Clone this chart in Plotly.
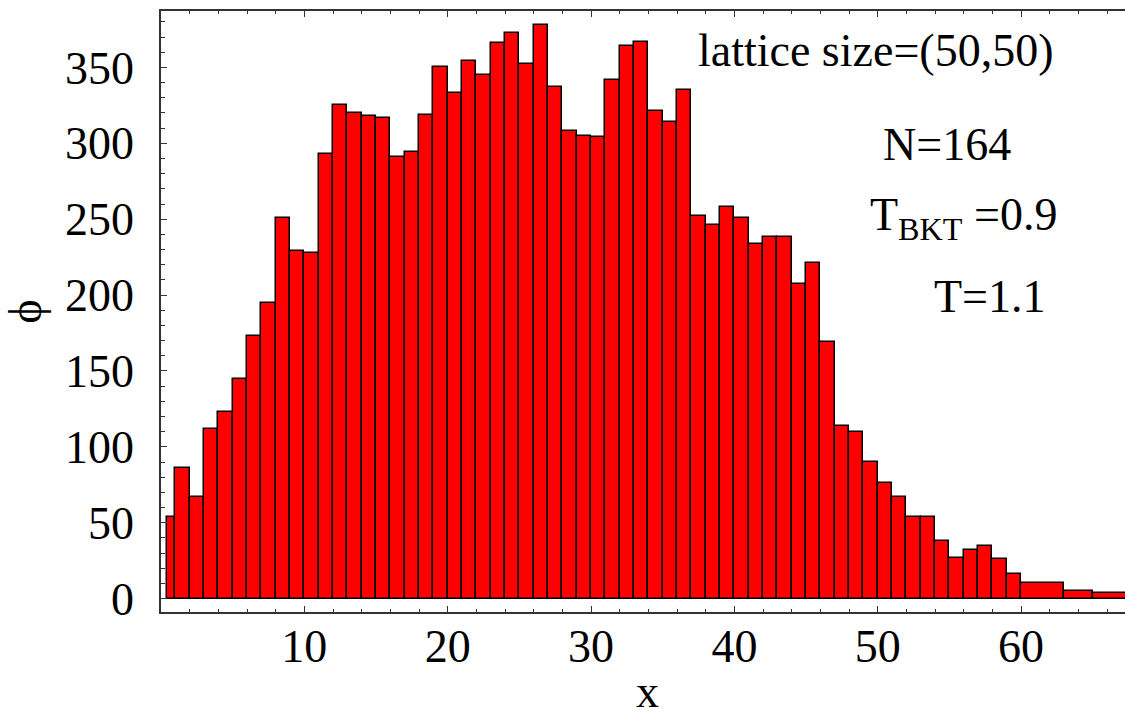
import plotly.graph_objects as go

# Histogram bin edges (unit bins, wider bins in the sparse tail)
bin_edges = [0.45] + list(range(1, 61)) + [63, 65, 68]

# Counts per bin
counts = [
    54, 86, 67, 112, 123, 145, 173, 195, 251, 229,
    228, 293, 325, 320, 318, 317, 291, 294, 319, 350,
    333, 354, 345, 366, 373, 352, 378, 337, 308, 305,
    304, 342, 364, 367, 321, 314, 335, 252, 246, 258,
    251, 234, 238, 238, 207, 221, 169, 114, 110, 90,
    76, 67, 54, 54, 38, 27, 32, 35, 26, 16,
    10, 5, 3.5,
]

x_ticks = [10, 20, 30, 40, 50, 60]
y_ticks = [0, 50, 100, 150, 200, 250, 300, 350]

info_lines = [
    ("lattice size=(50,50)", 49.87, 361.0),
    ("N=164", 54.85, 299.0),
    ("T<sub>BKT</sub> =0.9", 56.0, 251.0),
    ("T=1.1", 57.8, 199.0),
]

lefts = bin_edges[:-1]
widths = [b - a for a, b in zip(bin_edges[:-1], bin_edges[1:])]
centers = [a + w / 2 for a, w in zip(lefts, widths)]

FONT = "Liberation Serif, Times New Roman, serif"
AX = "#333333"

fig = go.Figure(
    go.Bar(
        x=centers,
        y=counts,
        width=widths,
        marker=dict(color="#ff0000", line=dict(color="#000000", width=1.5)),
        showlegend=False,
    )
)

for text, xv, yv in info_lines:
    fig.add_annotation(
        x=xv, y=yv, xref="x", yref="y", text=text, showarrow=False,
        xanchor="center", yanchor="middle",
        font=dict(family=FONT, size=46, color="#000000"),
    )

# x-axis title, placed below the tick labels near the page bottom
fig.add_annotation(
    x=0.505, y=-0.133, xref="paper", yref="paper", text="x", showarrow=False,
    xanchor="center", yanchor="middle",
    font=dict(family=FONT, size=46, color="#000000"),
)

fig.update_layout(
    width=1125,
    height=709,
    margin=dict(l=161, r=0, t=11, b=97, autoexpand=False),
    paper_bgcolor="white",
    plot_bgcolor="white",
    bargap=0,
    font=dict(family=FONT, color="#000000"),
    xaxis=dict(
        range=[0, 67.25],
        automargin=False,
        tickvals=x_ticks,
        ticks="inside",
        ticklen=6,
        tickwidth=1.2,
        tickcolor=AX,
        minor=dict(dtick=2, tick0=0, ticks="inside", ticklen=3.5, tickwidth=1, tickcolor=AX),
        showline=True,
        linecolor=AX,
        linewidth=1.5,
        mirror="ticks",
        showgrid=False,
        zeroline=False,
        tickfont=dict(family=FONT, size=46, color="#000000"),
        ticklabelstandoff=-7,
    ),
    yaxis=dict(
        range=[-8.8, 387.2],
        automargin=False,
        tickvals=y_ticks,
        ticks="inside",
        ticklen=6,
        tickwidth=1.2,
        tickcolor=AX,
        minor=dict(dtick=10, tick0=0, ticks="inside", ticklen=4, tickwidth=1, tickcolor=AX),
        showline=True,
        linecolor=AX,
        linewidth=1.5,
        mirror=False,
        showgrid=False,
        zeroline=False,
        tickfont=dict(family=FONT, size=46, color="#000000"),
        ticklabelstandoff=16,
        title=dict(text="ϕ", font=dict(family=FONT, size=46, color="#000000"), standoff=10),
    ),
)

fig.write_html("out.html")
